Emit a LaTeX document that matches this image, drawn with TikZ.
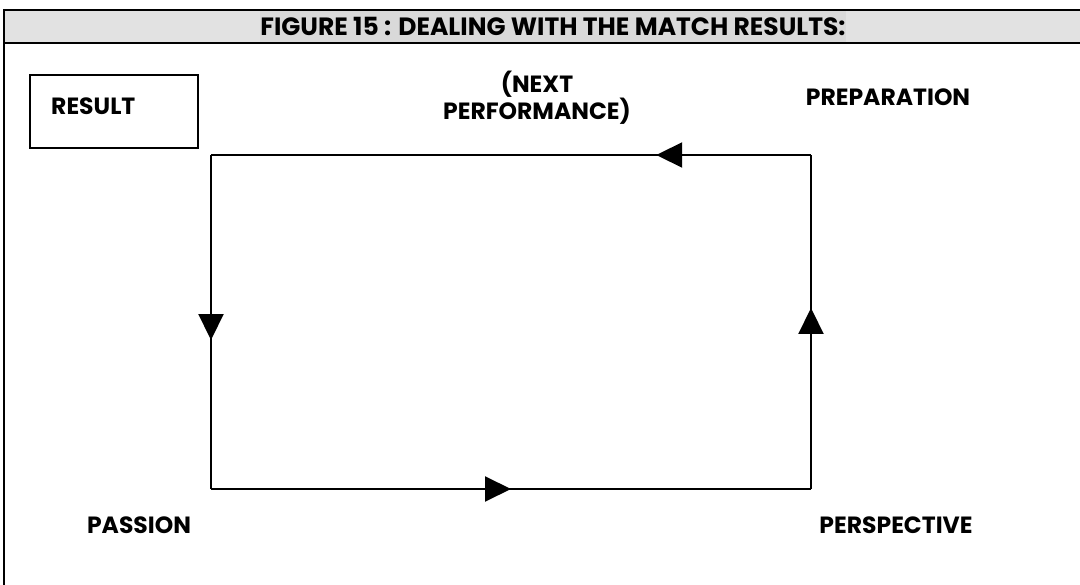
\documentclass[tikz,border=0pt]{standalone}
\usepackage{fontspec}
\setmainfont{Poppins}
\usetikzlibrary{arrows.meta,decorations.markings}
\definecolor{hdrgray}{HTML}{E2E2E2}
\definecolor{hlgray}{HTML}{D9D9D9}
\begin{document}
\begin{tikzpicture}[x=1pt,y=-1pt,
  lbl/.style={font=\fontsize{23.5}{27}\selectfont\bfseries, inner sep=0pt, align=center},
  hdr/.style={font=\fontsize{25}{28}\selectfont\bfseries, inner sep=0pt, fill=hlgray, minimum height=31},
  frameline/.style={line width=2pt},
  boxline/.style={line width=1.5pt},
  loopside/.style={line width=2pt, postaction={decorate},
    decoration={markings, mark=at position #1 with {\arrow{Triangle[length=26pt,width=25pt]}}}}]
\useasboundingbox (0,0) rectangle (1080,585);
% header band and frame
\fill[hdrgray] (4,10) rectangle (1080,43);
\node[hdr] (title) at (553,26.5) {FIGURE 15 : DEALING WITH THE MATCH RESULTS:};
\draw[frameline] (1080,10) -- (4,10) -- (4,585);
\draw[frameline] (4,43) -- (1080,43);
% result box
\node[draw, boxline, minimum width=168, minimum height=73, inner sep=0pt] (resbox) at (114,111.5) {};
\node[lbl, anchor=west] (result) at (51,106) {RESULT};
% loop corners
\coordinate (tl) at (211,155);
\coordinate (tr) at (811,155);
\coordinate (br) at (811,489);
\coordinate (bl) at (211,489);
\draw[loopside=0.258] (tr) -- (tl);
\draw[loopside=0.554] (tl) -- (bl);
\draw[loopside=0.5] (bl) -- (br);
\draw[loopside=0.542] (br) -- (tr);
% labels
\node[lbl] (next) at (537,98) {(NEXT\\PERFORMANCE)};
\node[lbl] (prep) at (888,97) {PREPARATION};
\node[lbl] (passion) at (139,525) {PASSION};
\node[lbl] (persp) at (896,525) {PERSPECTIVE};
\end{tikzpicture}
\end{document}
